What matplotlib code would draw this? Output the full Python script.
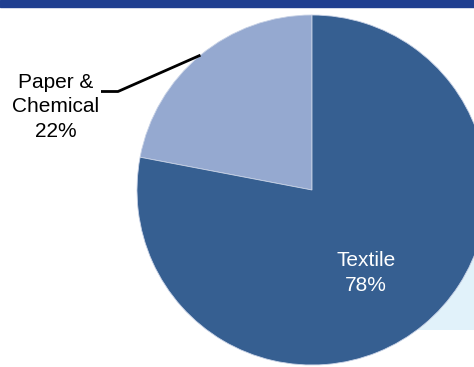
import numpy as np
import matplotlib.pyplot as plt
from matplotlib.patches import Rectangle

plt.rcParams['font.family'] = ['Liberation Sans', 'DejaVu Sans']

sectors = ["Paper &\nChemical", "Textile"]
shares = [22, 78]
colors = ["#95A9D0", "#365F91"]

W, H = 474, 367
fig = plt.figure(figsize=(W / 100, H / 100), dpi=100)
ax = fig.add_axes([0, 0, 1, 1])

# title band at the top (text is cropped off)
fig.patches.append(Rectangle((0, 1 - 7 / H), 1, 7 / H, transform=fig.transFigure,
                             color="#1F3F90", zorder=0))

# pale panel sitting behind the pie
ax.add_patch(Rectangle((300, H - 330), 200, 130, color="#E1F2FA", zorder=0, lw=0))

cx, cy, R = 312, H - 190, 175
wedges, _ = ax.pie(shares, colors=colors, startangle=90, counterclock=True,
                   center=(cx, cy), radius=R, frame=True,
                   wedgeprops=dict(edgecolor="#C8D2E6", linewidth=0.6))
ax.set_xlim(0, W)
ax.set_ylim(0, H)
ax.set_aspect("equal")
ax.axis("off")

# Textile label inside its wedge
ax.text(366, H - 273, f"{sectors[1]}\n{shares[1]}%",
        color="white", fontsize=15, ha="center", va="center", linespacing=1.37)

# Paper & Chemical label outside, leader line to the wedge's mid-angle
a = np.deg2rad((wedges[0].theta1 + wedges[0].theta2) / 2)
ex, ey = cx + R * np.cos(a), cy + R * np.sin(a)
ax.plot([101, 118, ex], [H - 91.5, H - 91.5, ey], color="black", lw=2,
        solid_capstyle="butt")
ax.text(56, H - 107, f"{sectors[0]}\n{shares[0]}%", color="black", fontsize=15,
        ha="center", va="center", linespacing=1.37)

fig.savefig("out.png", dpi=100)
